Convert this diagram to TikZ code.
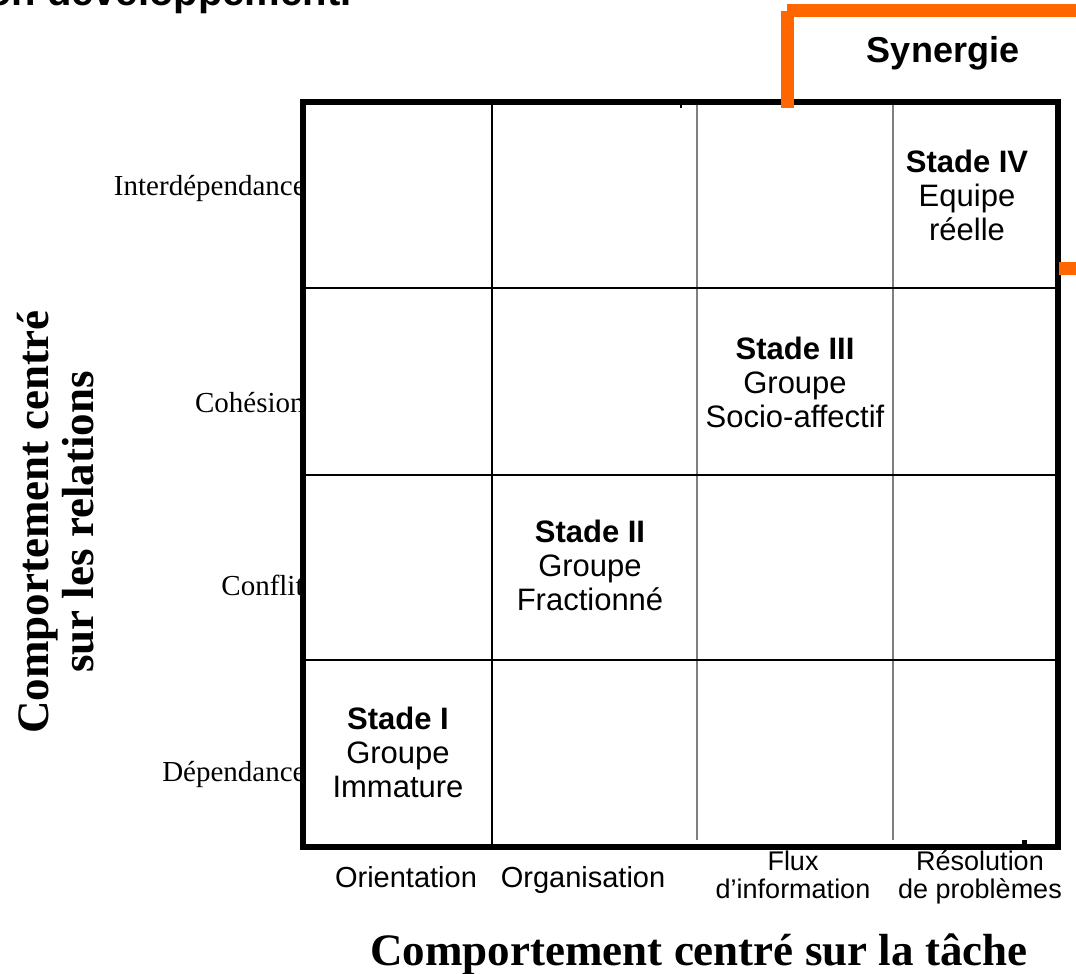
\documentclass[tikz,border=0pt]{standalone}
\usepackage{fontspec}
\setmainfont{Liberation Serif}
\setsansfont{Liberation Sans}
\usetikzlibrary{positioning}
\definecolor{synergyorange}{HTML}{FF6600}
\definecolor{gridgray}{HTML}{7F7F7F}

\begin{document}
\begin{tikzpicture}[
    x=0.5pt, y=-0.5pt,
    every node/.style={inner sep=0pt},
    framebox/.style={draw, line width=3pt},
    blackline/.style={line width=1pt},
    grayline/.style={draw=gridgray, line width=0.8pt},
    orangeline/.style={draw=synergyorange, line width=6.5pt},
    stagebox/.style={
        align=center,
        anchor=base,
        font=\sffamily\fontsize{15.5}{17}\selectfont
    },
    levellabel/.style={anchor=base east, font=\rmfamily\fontsize{14.5}{17}\selectfont},
    tasklabel/.style={anchor=base, align=center, font=\sffamily\fontsize{14.5}{14}\selectfont},
    axistitle/.style={font=\rmfamily\bfseries\fontsize{22.5}{22.5}\selectfont}
]
    \useasboundingbox (0,0) rectangle (1076,974);
    \clip (0,0) rectangle (1076,974);

    % Title (cut off at the top)
    \node[anchor=base east, font=\sffamily\bfseries\fontsize{20}{24}\selectfont] (title) at (352,6) {on développement.};

    % === LEVELS (relations axis) ===
    \node[levellabel] (interdep) at (306,195) {Interdépendance};
    \node[levellabel] (cohesion) at (305,412) {Cohésion};
    \node[levellabel] (conflit) at (304,595) {Conflit};
    \node[levellabel] (dep) at (306,781) {Dépendance};

    % === GRID ===
    \draw[grayline] (697,104) -- (697,840);
    \draw[grayline] (893,104) -- (893,840);
    \draw[blackline] (492,102) -- (492,847);
    \foreach \y in {288,475,660}
        \draw[blackline] (303,\y) -- (1058,\y);
    \draw[framebox] (303,102) rectangle (1058,847);
    \fill (680,104) rectangle (682,108);
    \fill (1022,840) rectangle (1027,845);

    % === STAGES (base = last line) ===
    \node[stagebox] (stage1) at (398,797) {\textbf{Stade I}\\Groupe\\Immature};
    \node[stagebox] (stage2) at (590,610) {\textbf{Stade II}\\Groupe\\Fractionné};
    \node[stagebox] (stage3) at (795,427) {\textbf{Stade III}\\Groupe\\Socio-affectif};
    \node[stagebox] (stage4) at (967,240) {\textbf{Stade IV}\\Equipe\\réelle};

    % === SYNERGY BRACKET ===
    \draw[orangeline] (787,108) -- (787,11);
    \draw[orangeline] (787,10.5) -- (1076,10.5);
    \draw[orangeline] (1059,268) -- (1076,268);
    \node[anchor=base, font=\sffamily\bfseries\fontsize{18}{20}\selectfont] (synergie) at (943,63) {Synergie};

    % === TASK AXIS ===
    \node[tasklabel] (orient) at (406,887) {Orientation};
    \node[tasklabel] (organ) at (583,887) {Organisation};
    \node[tasklabel, font=\sffamily\fontsize{13.5}{14}\selectfont] (flux) at (793,898) {Flux\\d’information};
    \node[tasklabel, font=\sffamily\fontsize{13.5}{14}\selectfont] (resol) at (980,898) {Résolution\\de problèmes};

    % Axis titles
    \node[axistitle, rotate=90, align=center] (relaxis) at (56,522) {Comportement centré\\sur les relations};
    \node[axistitle, anchor=base] (taskaxis) at (699,965) {Comportement centré sur la tâche};
\end{tikzpicture}
\end{document}
